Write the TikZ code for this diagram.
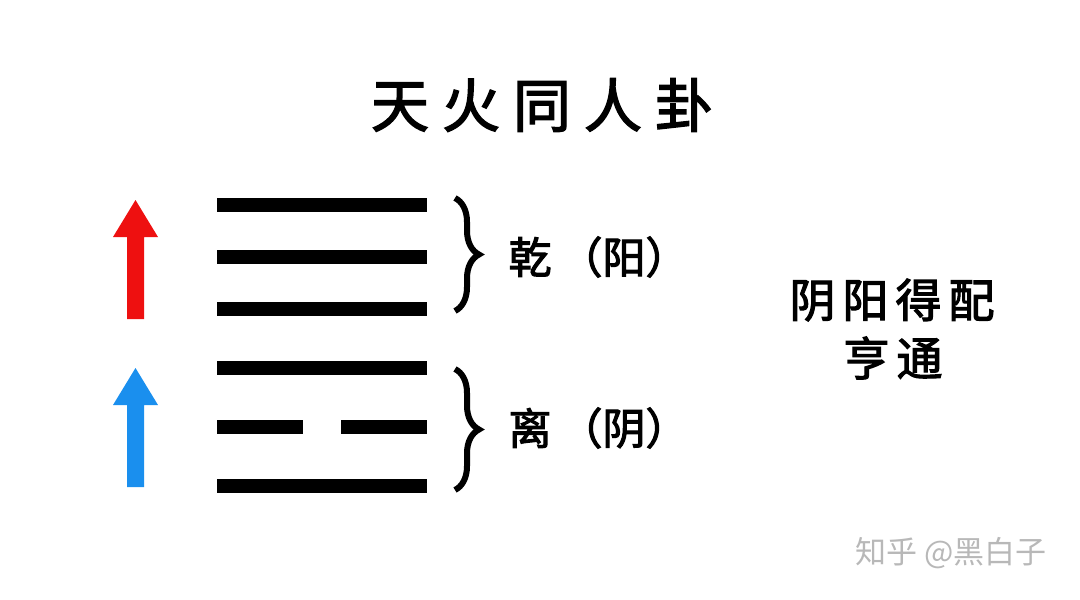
\documentclass[tikz,border=0pt]{standalone}
\usepackage{fontspec}
\newfontfamily\cjk{Noto Sans CJK SC}[BoldFont=*, BoldFeatures={FakeBold=2.5}]
\usetikzlibrary{decorations.pathreplacing}
\definecolor{yangred}{HTML}{EE1010}
\definecolor{yinblue}{HTML}{1A8FEE}
\definecolor{wmgray}{HTML}{B8B8B8}
\tikzset{
  yao/.style={fill=black, draw=none},
  bracestyle/.style={decorate, decoration={brace, amplitude=24pt, raise=0pt}, line width=6pt},
  titletext/.style={font=\cjk\bfseries\fontsize{58}{64}\selectfont, inner sep=0pt},
  labeltext/.style={font=\cjk\bfseries\fontsize{43}{48}\selectfont, inner sep=0pt},
  sidetext/.style={font=\cjk\bfseries\fontsize{46}{52}\selectfont, inner sep=0pt},
  wmtext/.style={font=\cjk\fontsize{31}{36}\selectfont, text=wmgray, inner sep=0pt},
}
\begin{document}
\begin{tikzpicture}[x=1pt, y=-1pt]
\useasboundingbox (0,0) rectangle (1080,600);
% title
\node[titletext] (title) at (542,105) {天\hspace{13pt}火\hspace{13pt}同\hspace{13pt}人\hspace{13pt}卦};
% arrows
\fill[yangred] (135.5,200) -- (158,237) -- (144,237) -- (144,319) -- (127,319) -- (127,237) -- (113,237) -- cycle;
\fill[yinblue] (135.5,368) -- (158,405) -- (144,405) -- (144,487) -- (127,487) -- (127,405) -- (113,405) -- cycle;
% upper trigram (qian)
\fill[yao] (217,198) rectangle (427,212);
\fill[yao] (217,250) rectangle (427,264);
\fill[yao] (217,302) rectangle (427,316);
% lower trigram (li)
\fill[yao] (217,361) rectangle (427,375);
\fill[yao] (217,420) rectangle (303,434);
\fill[yao] (341,420) rectangle (427,434);
\fill[yao] (217,479) rectangle (427,493);
% braces
\coordinate (b1t) at (455,198);
\coordinate (b1b) at (455,311);
\coordinate (b2t) at (455,369);
\coordinate (b2b) at (455,490);
\draw[bracestyle] (b1t) -- (b1b);
\draw[bracestyle] (b2t) -- (b2b);
% labels
\node[labeltext] (qian) at (530,257) {乾};
\node[labeltext] (yang) at (624,257) {（阳）};
\node[labeltext] (li) at (530,428) {离};
\node[labeltext] (yin) at (624,428) {（阴）};
% side text
\node[sidetext] (s1) at (892,300) {阴\hspace{7pt}阳\hspace{7pt}得\hspace{7pt}配};
\node[sidetext] (s2) at (893,358) {亨\hspace{7pt}通};
% watermark
\node[wmtext] (wm) at (951,553) {知乎 @黑白子};
\end{tikzpicture}
\end{document}
